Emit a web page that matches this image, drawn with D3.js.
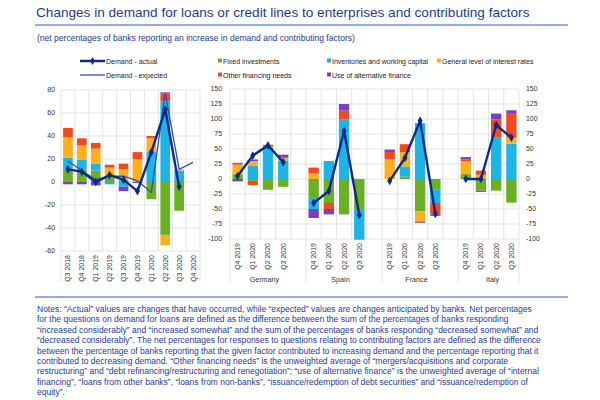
<!DOCTYPE html>
<html>
<head>
<meta charset="utf-8">
<script src="https://cdn.jsdelivr.net/npm/d3@7"></script>
<style>
  body { margin: 0; background: #fff; }
  svg { font-family: "Liberation Sans", Arial, sans-serif; }
</style>
</head>
<body>
<svg id="chart" width="600" height="400"></svg>
<script>
// categories
const eaQuarters = ["Q3 2018","Q4 2018","Q1 2019","Q2 2019","Q3 2019","Q4 2019","Q1 2020","Q2 2020","Q3 2020","Q4 2020"];
const ctyQuarters = ["Q4 2019","Q1 2020","Q2 2020","Q3 2020"];
const countries = ["Germany","Spain","France","Italy"];
const factorNames = ["Fixed investments","Inventories and working capital","General level of interest rates","Other financing needs","Use of alternative finance"];
const factorColors = ["#6ab023","#1fb4e6","#fbb020","#f24a1f","#7b3fc4"];

// euro area (left panel)
const eaFixed       = [11, 11, 10, 4, 2, 0, -15, -46, -25, null];
const eaInventories = [10, 8.5, 6, -2, -4, 0, 26, 70, 10, null];
const eaInterest    = [18, 12.5, 13, 8.5, 9, 20, 12, -9, 1, null];
const eaOther       = [8, 6, 5, 2.5, 5, 6, 2, 7, 0, null];
const eaAlternative = [-2, -2, -3, 0, -4, -1, 0, 1, 0, null];
const eaActual      = [11, 9, 0, 6, 2, -8, 26, 63, -4, null];
const eaExpected    = [18, 10, 2, 5, 5, 1, -9, 77, 11, 17];

// countries (right panel), Q4 2019 .. Q3 2020
const deFixed = [8, -3, -18, -13], deInventories = [0, 22, 52, 31], deInterest = [16, 8, 2, 4], deOther = [3, -7, 3, 1.5], deAlternative = [-4, 2.5, 0, 4];
const esFixed = [-30, -40, -59, -50], esInventories = [-20, 30, 99, -50], esInterest = [9, 0, 0, 0], esOther = [10, -10, 15, -1], esAlternative = [-15, -9, 11, 0];
const frFixed = [0, 4, -54, -17], frInventories = [0, 17, 93, -23], frInterest = [33, 24, -17, 0], frOther = [12, 13, 0, -19], frAlternative = [4, 0, -2, -2.5];
const itFixed = [8.5, -19.5, -19.5, -39.5], itInventories = [0, 0, 69, 59], itInterest = [21, 7, 0, 10], itOther = [3, 7, 30, 41], itAlternative = [4, -2, 10, 4.5];
const deActual = [5, 39, 56, 28];
const esActual = [-40, -20, 80, -60];
const frActual = [-3, 35, 97, -58];
const itActual = [0, 0, 90, 69];

const eaTicks = [-60, -40, -20, 0, 20, 40, 60, 80];
const ctyTicks = [-100, -75, -50, -25, 0, 25, 50, 75, 100, 125, 150];

const notes = [
  "Notes: \u201cActual\u201d values are changes that have occurred, while \u201cexpected\u201d values are changes anticipated by banks. Net percentages",
  "for the questions on demand for loans are defined as the difference between the sum of the percentages of banks responding",
  "\u201cincreased considerably\u201d and \u201cincreased somewhat\u201d and the sum of the percentages of banks responding \u201cdecreased somewhat\u201d and",
  "\u201cdecreased considerably\u201d. The net percentages for responses to questions relating to contributing factors are defined as the difference",
  "between the percentage of banks reporting that the given factor contributed to increasing demand and the percentage reporting that it",
  "contributed to decreasing demand. \u201cOther financing needs\u201d is the unweighted average of \u201cmergers/acquisitions and corporate",
  "restructuring\u201d and \u201cdebt refinancing/restructuring and renegotiation\u201d; \u201cuse of alternative finance\u201d is the unweighted average of \u201cinternal",
  "financing\u201d, \u201cloans from other banks\u201d, \u201cloans from non-banks\u201d, \u201cissuance/redemption of debt securities\u201d and \u201cissuance/redemption of",
  "equity\u201d."
];

const textBlue = "#1d3b9a";
const lineBlue = "#6f8fd2";
const actualColor = "#0c2a8a";
const expectedColor = "#2452b5";
const gridColor = "#dcdcdc";
const axisText = "#333";

const svg = d3.select("#chart");

// header
svg.append("text").attr("x", 36).attr("y", 17).attr("font-size", 13.6).attr("fill", textBlue)
  .text("Changes in demand for loans or credit lines to enterprises and contributing factors");
svg.append("line").attr("x1", 35).attr("x2", 568).attr("y1", 25).attr("y2", 25).attr("stroke", lineBlue).attr("stroke-width", 1.5);
svg.append("text").attr("x", 37).attr("y", 41).attr("font-size", 8.55).attr("fill", textBlue)
  .text("(net percentages of banks reporting an increase in demand and contributing factors)");

// legend
let legend = svg.append("g").attr("font-size", 7).attr("fill", "#222");
legend.append("line").attr("x1", 80).attr("x2", 105).attr("y1", 61).attr("y2", 61).attr("stroke", actualColor).attr("stroke-width", 2.5);
legend.append("path").attr("d", d3.symbol(d3.symbolDiamond, 18)()).attr("transform", "translate(92.5,61)").attr("fill", actualColor);
legend.append("text").attr("x", 106).attr("y", 63.5).text("Demand - actual");
legend.append("line").attr("x1", 80).attr("x2", 105).attr("y1", 75).attr("y2", 75).attr("stroke", expectedColor).attr("stroke-width", 1.3);
legend.append("text").attr("x", 106).attr("y", 77.5).text("Demand - expected");
const legendPos = [[218, 62], [327, 62], [437, 62], [218, 76], [327, 76]];
factorNames.forEach((name, i) => {
  legend.append("rect").attr("x", legendPos[i][0]).attr("y", legendPos[i][1] - 3.5).attr("width", 4).attr("height", 4).attr("fill", factorColors[i]);
  legend.append("text").attr("x", legendPos[i][0] + 5).attr("y", legendPos[i][1] + 1.5).text(name);
});

function stackRows(cats, series) {
  return cats.map((c, i) => {
    let row = {cat: c};
    factorNames.forEach((f, k) => { row[f] = series[k][i] == null ? 0 : series[k][i]; });
    return row;
  });
}
const stacker = d3.stack().keys(factorNames).offset(d3.stackOffsetDiverging);

// ---- left panel: euro area
const xEA = d3.scaleBand().domain(eaQuarters).range([61, 200]).paddingInner(0.3).paddingOuter(0.15);
const yEA = d3.scaleLinear().domain([-60, 80]).range([251, 90]);
let left = svg.append("g");

left.selectAll(".hg").data(eaTicks).join("line")
  .attr("x1", 61).attr("x2", 200).attr("y1", d => yEA(d)).attr("y2", d => yEA(d)).attr("stroke", gridColor).attr("stroke-width", 0.8);
left.selectAll(".vg").data(eaQuarters.concat(["end"])).join("line")
  .attr("x1", (d, i) => 61 + i * xEA.step()).attr("x2", (d, i) => 61 + i * xEA.step())
  .attr("y1", 90).attr("y2", (d, i) => (i == 0 || i == eaQuarters.length) ? 282 : 251)
  .attr("stroke", gridColor).attr("stroke-width", 0.8);

const eaStack = stacker(stackRows(eaQuarters, [eaFixed, eaInventories, eaInterest, eaOther, eaAlternative]));
eaStack.forEach((s, k) => {
  left.append("g").attr("fill", factorColors[k]).selectAll("rect").data(s).join("rect")
    .attr("x", d => xEA(d.data.cat)).attr("width", xEA.bandwidth())
    .attr("y", d => yEA(Math.max(d[0], d[1]))).attr("height", d => Math.abs(yEA(d[0]) - yEA(d[1])));
});

const eaCx = d => xEA(d) + xEA.bandwidth() / 2;
left.append("path").datum(eaQuarters.map((q, i) => [q, eaExpected[i]]))
  .attr("fill", "none").attr("stroke", expectedColor).attr("stroke-width", 1.3)
  .attr("d", d3.line().defined(d => d[1] != null).x(d => eaCx(d[0])).y(d => yEA(d[1])));
const eaAct = eaQuarters.map((q, i) => [q, eaActual[i]]).filter(d => d[1] != null);
left.append("path").datum(eaAct)
  .attr("fill", "none").attr("stroke", actualColor).attr("stroke-width", 2.4)
  .attr("d", d3.line().x(d => eaCx(d[0])).y(d => yEA(d[1])));
left.selectAll(".mk").data(eaAct).join("path")
  .attr("d", d3.symbol(d3.symbolDiamond, 22)()).attr("fill", actualColor)
  .attr("transform", d => `translate(${eaCx(d[0])},${yEA(d[1])})`);

left.selectAll(".yl").data(eaTicks).join("text")
  .attr("x", 55).attr("y", d => yEA(d)).attr("dy", "0.35em").attr("text-anchor", "end")
  .attr("font-size", 6.9).attr("fill", axisText).text(d => d);
left.selectAll(".xl").data(eaQuarters).join("text")
  .attr("transform", d => `translate(${eaCx(d)},255) rotate(-90)`).attr("dy", "0.35em")
  .attr("text-anchor", "end").attr("font-size", 7).attr("fill", axisText).text(d => d);

// ---- right panel: countries
const slots = [];
countries.forEach((c, ci) => {
  ctyQuarters.forEach(q => slots.push(c + "|" + q));
  if (ci < countries.length - 1) slots.push(c + "|gap");
});
const xC = d3.scaleBand().domain(slots).range([230, 519]).paddingInner(0.32).paddingOuter(0.16);
const yC = d3.scaleLinear().domain([-100, 150]).range([239, 89]);
let right = svg.append("g");

right.selectAll(".hg").data(ctyTicks).join("line")
  .attr("x1", 230).attr("x2", 519).attr("y1", d => yC(d)).attr("y2", d => yC(d)).attr("stroke", gridColor).attr("stroke-width", 0.8);
right.selectAll(".vg").data(slots.concat(["end"])).join("line")
  .attr("x1", (d, i) => 230 + i * xC.step()).attr("x2", (d, i) => 230 + i * xC.step())
  .attr("y1", 89).attr("y2", (d, i) => (i % 5 == 0 || i == slots.length) ? 282 : 239)
  .attr("stroke", gridColor).attr("stroke-width", 0.8);

const ctySeries = {
  Germany: [[deFixed, deInventories, deInterest, deOther, deAlternative], deActual],
  Spain: [[esFixed, esInventories, esInterest, esOther, esAlternative], esActual],
  France: [[frFixed, frInventories, frInterest, frOther, frAlternative], frActual],
  Italy: [[itFixed, itInventories, itInterest, itOther, itAlternative], itActual]
};
const cCx = d => xC(d) + xC.bandwidth() / 2;

countries.forEach(c => {
  const cats = ctyQuarters.map(q => c + "|" + q);
  const st = stacker(stackRows(cats, ctySeries[c][0]));
  st.forEach((s, k) => {
    right.append("g").attr("fill", factorColors[k]).selectAll("rect").data(s).join("rect")
      .attr("x", d => xC(d.data.cat)).attr("width", xC.bandwidth())
      .attr("y", d => yC(Math.max(d[0], d[1]))).attr("height", d => Math.abs(yC(d[0]) - yC(d[1])));
  });
  const act = cats.map((q, i) => [q, ctySeries[c][1][i]]);
  right.append("path").datum(act)
    .attr("fill", "none").attr("stroke", actualColor).attr("stroke-width", 2.4)
    .attr("d", d3.line().x(d => cCx(d[0])).y(d => yC(d[1])));
  right.selectAll(".mk" + c).data(act).join("path")
    .attr("d", d3.symbol(d3.symbolDiamond, 22)()).attr("fill", actualColor)
    .attr("transform", d => `translate(${cCx(d[0])},${yC(d[1])})`);
  right.selectAll(".xl" + c).data(cats).join("text")
    .attr("transform", d => `translate(${cCx(d)},243) rotate(-90)`).attr("dy", "0.35em")
    .attr("text-anchor", "end").attr("font-size", 7).attr("fill", axisText).text(d => d.split("|")[1]);
  const mid = (xC(cats[0]) + xC(cats[3]) + xC.bandwidth()) / 2;
  right.append("text").attr("x", mid + 4).attr("y", 282).attr("text-anchor", "middle")
    .attr("font-size", 7.2).attr("fill", axisText).text(c);
});

right.selectAll(".yl").data(ctyTicks).join("text")
  .attr("x", 222).attr("y", d => yC(d)).attr("dy", "0.35em").attr("text-anchor", "end")
  .attr("font-size", 6.9).attr("fill", axisText).text(d => d);
right.selectAll(".yr").data(ctyTicks).join("text")
  .attr("x", 526).attr("y", d => yC(d)).attr("dy", "0.35em").attr("text-anchor", "start")
  .attr("font-size", 6.9).attr("fill", axisText).text(d => d);

// footer
svg.append("line").attr("x1", 35).attr("x2", 568).attr("y1", 297).attr("y2", 297).attr("stroke", lineBlue).attr("stroke-width", 1.5);
svg.append("g").selectAll("text").data(notes).join("text")
  .attr("x", 37).attr("y", (d, i) => 312 + i * 10.4).attr("font-size", 8.5).attr("fill", textBlue).text(d => d);
</script>
</body>
</html>
